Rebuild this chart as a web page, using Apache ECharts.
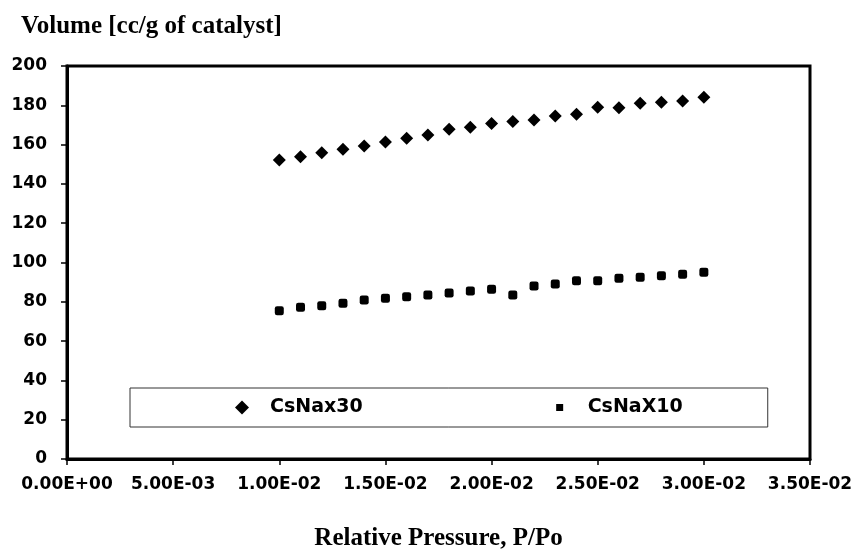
<!DOCTYPE html>
<html>
<head>
<meta charset="utf-8">
<script src="https://cdn.jsdelivr.net/npm/echarts@6/dist/echarts.min.js"></script>
<style>
html,body{margin:0;padding:0;background:#fff;}
#chart{width:859px;height:556px;}
</style>
</head>
<body>
<div id="chart"></div>
<script>
// Data
var pressure = [0.010, 0.011, 0.012, 0.013, 0.014, 0.015, 0.016, 0.017, 0.018, 0.019, 0.020,
                0.021, 0.022, 0.023, 0.024, 0.025, 0.026, 0.027, 0.028, 0.029, 0.030];
var csNax30 = [152.2, 153.8, 155.9, 157.6, 159.3, 161.3, 163.2, 164.9, 167.8, 168.8, 170.8,
               171.7, 172.5, 174.6, 175.4, 179.0, 178.8, 181.0, 181.5, 182.2, 184.1];
var csNaX10 = [75.5, 77.2, 78.0, 79.2, 80.9, 81.8, 82.6, 83.5, 84.5, 85.5, 86.4,
               83.5, 88.0, 89.1, 90.7, 90.7, 92.0, 92.5, 93.3, 94.0, 95.0];
var seriesNames = ['CsNax30', 'CsNaX10'];
var titleText = 'Volume [cc/g of catalyst]';
var xAxisTitle = 'Relative Pressure, P/Po';

function zip(xs, ys) { return xs.map(function (x, i) { return [x, ys[i]]; }); }
function sci(v) {
  var s = v.toExponential(2).toUpperCase(); // e.g. 1.00E-2
  var m = s.match(/^(-?[\d.]+)E([+-])(\d+)$/);
  var exp = m[3].length < 2 ? '0' + m[3] : m[3];
  return m[1] + 'E' + m[2] + exp;
}

var chart = echarts.init(document.getElementById('chart'), null, {renderer: 'canvas'});
var sans = 'DejaVu Sans';
chart.setOption({
  backgroundColor: '#ffffff',
  animation: false,
  title: {
    text: titleText,
    left: 16, top: 9,
    textStyle: {fontFamily: 'Liberation Serif', fontWeight: 'bold', fontSize: 25, color: '#000'}
  },
  grid: {
    left: 67, right: 49, top: 66, bottom: 97,
    show: true, borderColor: '#000', borderWidth: 3, backgroundColor: '#fff'
  },
  legend: {
    data: [
      {name: seriesNames[0], icon: 'diamond'},
      {name: seriesNames[1], icon: 'path://M0 0L0 0M14 14L14 14M3.5 3.5L10.5 3.5L10.5 10.5L3.5 10.5Z'}
    ],
    left: 130, top: 388,
    padding: [10, 85, 10, 105],
    itemGap: 190,
    itemWidth: 14, itemHeight: 14,
    borderColor: '#333', borderWidth: 1,
    backgroundColor: '#fff',
    itemStyle: {opacity: 1, color: '#000', borderWidth: 0},
    textStyle: {fontFamily: sans, fontWeight: 'bold', fontSize: 19, color: '#000', padding: [0, 0, 0, 16]}
  },
  xAxis: {
    type: 'value', min: 0, max: 0.035, interval: 0.005,
    name: xAxisTitle, nameLocation: 'middle', nameGap: 67,
    nameTextStyle: {fontFamily: 'Liberation Serif', fontWeight: 'bold', fontSize: 25, color: '#000'},
    axisLine: {show: true, onZero: false, lineStyle: {color: '#000', width: 3}},
    axisTick: {show: true, inside: false, length: 6, lineStyle: {color: '#000', width: 1.5}},
    axisLabel: {formatter: sci, margin: 17, fontFamily: sans, fontWeight: 'bold', fontSize: 17, color: '#000'},
    splitLine: {show: false}
  },
  yAxis: {
    type: 'value', min: 0, max: 200, interval: 20,
    axisLine: {show: true, lineStyle: {color: '#000', width: 3}},
    axisTick: {show: true, inside: false, length: 6, lineStyle: {color: '#000', width: 1.5}},
    axisLabel: {margin: 20, fontFamily: sans, fontWeight: 'bold', fontSize: 17, color: '#000'},
    splitLine: {show: false}
  },
  series: [
    {
      name: seriesNames[0], type: 'scatter', symbol: 'diamond', symbolSize: 13,
      itemStyle: {color: '#000', opacity: 1},
      data: zip(pressure, csNax30)
    },
    {
      name: seriesNames[1], type: 'scatter', symbol: 'roundRect', symbolSize: 9,
      itemStyle: {color: '#000', opacity: 1},
      data: zip(pressure, csNaX10)
    }
  ]
});
</script>
</body>
</html>
